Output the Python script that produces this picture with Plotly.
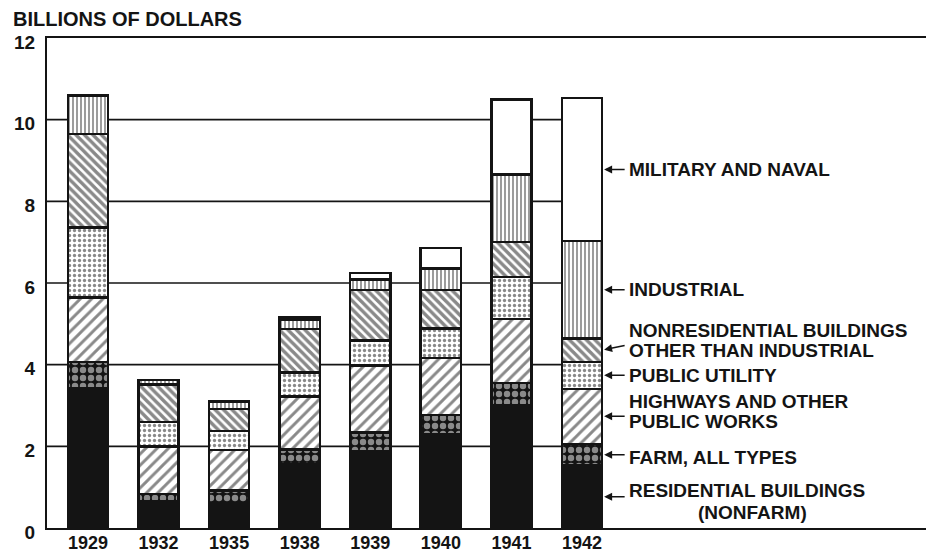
import plotly.graph_objects as go

# values in billions of dollars (bottom segment first)
years = ["1929", "1932", "1935", "1938", "1939", "1940", "1941", "1942"]
residential = [3.43, 0.66, 0.61, 1.55, 1.88, 2.30, 3.00, 1.53]
farm = [0.64, 0.17, 0.31, 0.37, 0.46, 0.47, 0.55, 0.53]
highways = [1.58, 1.17, 0.99, 1.30, 1.64, 1.39, 1.57, 1.35]
public_utility = [1.71, 0.59, 0.46, 0.59, 0.61, 0.73, 1.03, 0.66]
nonresidential = [2.29, 0.92, 0.55, 1.06, 1.24, 0.94, 0.86, 0.57]
industrial = [0.94, 0.11, 0.18, 0.23, 0.26, 0.53, 1.65, 2.39]
military = [0.0, 0.0, 0.0, 0.05, 0.15, 0.50, 1.84, 3.50]

y_ticks = [0, 2, 4, 6, 8, 10, 12]
grid_values = [2, 4, 6, 8, 10]

INK = "#141414"
FONT = "Liberation Sans"
BAR_W = 0.57
X_RANGE = [-0.58, 11.93]

# (name, values, pattern shape, fg, bg, size, solidity, label lines (text, dy px, anchor))
series = [
    ("Residential buildings (nonfarm)", residential, "", INK, INK, 8, 0.3,
     [("RESIDENTIAL BUILDINGS", -6, "left"), ("(NONFARM)", 16, "center")]),
    ("Farm, all types", farm, ".", "white", INK, 8, 0.5,
     [("FARM, ALL TYPES", 3, "left")]),
    ("Highways and other public works", highways, "/", INK, "white", 8, 0.36,
     [("HIGHWAYS AND OTHER", -15, "left"), ("PUBLIC WORKS", 5, "left")]),
    ("Public utility", public_utility, ".", INK, "white", 5, 0.35,
     [("PUBLIC UTILITY", 0, "left")]),
    ("Nonresidential buildings other than industrial", nonresidential, "\\", INK, "white", 6, 0.58,
     [("NONRESIDENTIAL BUILDINGS", -20, "left"), ("OTHER THAN INDUSTRIAL", 0, "left")]),
    ("Industrial", industrial, "|", INK, "white", 4, 0.42,
     [("INDUSTRIAL", 0, "left")]),
    ("Military and naval", military, "", "white", "white", 8, 0.3,
     [("MILITARY AND NAVAL", 0, "left")]),
]

fig = go.Figure()

for name, vals, shape, fg, bg, size, solidity, _ in series:
    if shape:
        marker = dict(color=bg, line=dict(color=INK, width=2.5),
                      pattern=dict(shape=shape, fgcolor=fg, bgcolor=bg,
                                   size=size, solidity=solidity))
    else:
        marker = dict(color=fg, line=dict(color=INK, width=2.5))
    fig.add_trace(go.Bar(x=years, y=vals, name=name, width=BAR_W, marker=marker))

# horizontal rules stop at the last bar
shapes = []
for v in grid_values:
    shapes.append(dict(type="line", xref="x", yref="y", x0=X_RANGE[0], x1=len(years) - 1,
                       y0=v, y1=v, layer="below", line=dict(color=INK, width=1.6)))

annotations = []
label_font = dict(family=FONT, size=19, color=INK, weight="bold")

# labels with arrows pointing at the segments of the 1942 bar
last = len(years) - 1
tip_x = last + BAR_W / 2
base = 0
for name, vals, *_, lines in series:
    mid = base + vals[last] / 2
    base += vals[last]
    ay = -5 if name.startswith("Nonresidential") else 0
    annotations.append(dict(x=tip_x, y=mid, xref="x", yref="y", text="", showarrow=True,
                            ax=24, ay=ay, arrowhead=2, arrowsize=1, arrowwidth=1.6,
                            arrowcolor=INK, standoff=2))
    for text, dy, anchor in lines:
        xs = 25 if anchor == "left" else 25 + 125
        annotations.append(dict(x=tip_x, y=mid, xref="x", yref="y", text=text,
                                showarrow=False, xanchor=anchor, yanchor="middle",
                                xshift=xs, yshift=-dy, font=label_font))

totals = [sum(s[1][i] for s in series) for i in range(len(years))]
small_font = dict(family=FONT, size=12, color=INK, weight="bold")
annotations.append(dict(x="1941", y=totals[6], xref="x", yref="y", text="PREL.<br>EST.",
                        showarrow=False, yanchor="bottom", yshift=1, font=small_font))
annotations.append(dict(x="1942", y=totals[7], xref="x", yref="y", text="FORECAST",
                        showarrow=False, yanchor="bottom", yshift=1, font=small_font))
annotations.append(dict(x=0, y=1, xref="paper", yref="paper", text="BILLIONS OF DOLLARS",
                        showarrow=False, xanchor="left", yanchor="bottom", xshift=-36,
                        yshift=6, font=dict(family=FONT, size=20, color=INK, weight="bold")))

# the page body keeps its default 8px margin, so the figure is drawn 8px smaller
fig.update_layout(
    width=926,
    height=545,
    margin=dict(l=39, r=4, t=30, b=25),
    barmode="stack",
    showlegend=False,
    paper_bgcolor="white",
    plot_bgcolor="rgba(0,0,0,0)",
    shapes=shapes,
    annotations=annotations,
    xaxis=dict(type="category", range=X_RANGE, showgrid=False, showline=True, mirror=True,
               linecolor=INK, linewidth=2, ticks="", automargin=False,
               ticklabelstandoff=-3,
               tickfont=dict(family=FONT, size=18, color=INK, weight="bold")),
    yaxis=dict(range=[0, 12], tickvals=y_ticks, showgrid=False, zeroline=False,
               showline=True, mirror=True, linecolor=INK, linewidth=2, ticks="",
               ticklabelstandoff=6, ticklabelshift=4, automargin=False,
               tickfont=dict(family=FONT, size=19, color=INK, weight="bold")),
)

fig.write_html("out.html")
